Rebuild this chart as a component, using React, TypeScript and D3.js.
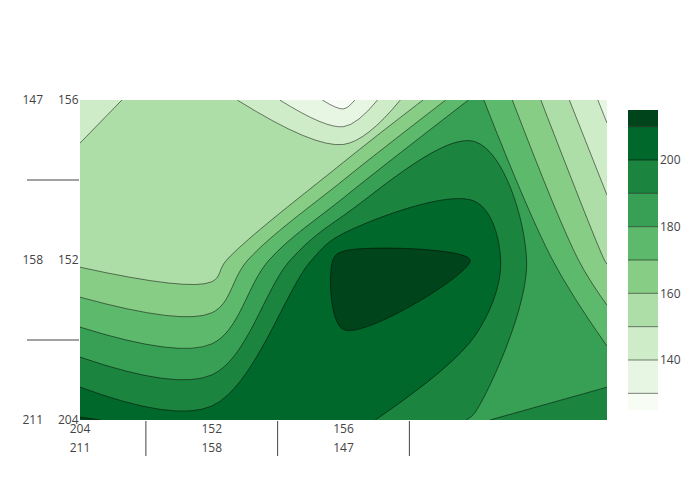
import React from 'react';
import * as d3 from 'd3';

// Multicategory labels (outer level, inner level) shared by both axes
const outerCats = ['211', '158', '147'];
const innerCats = ['204', '152', '156'];

// z values: one array per y category (bottom to top), one value per x column
const zRow0 = [211, 204.5, 203.5, 189, 198];
const zRow1 = [157.6, 153, 215, 209.8, 159];
const zRow2 = [147.2, 156, 125, 183, 136.8];

const contourStart = 130;
const contourEnd = 210;
const contourSize = 10;
const colorbarTicks = [140, 160, 180, 200];

// Greens colorscale (low = light)
const greensStops = [0, 0.125, 0.25, 0.375, 0.5, 0.625, 0.75, 0.875, 1];
const greensColors = [
  'rgb(247,252,245)', 'rgb(229,245,224)', 'rgb(199,233,192)', 'rgb(161,217,155)',
  'rgb(116,196,118)', 'rgb(65,171,93)', 'rgb(35,139,69)', 'rgb(0,109,44)', 'rgb(0,68,27)',
];

type Pt = [number, number];
const fmt = (p: Pt) => p[0].toFixed(2) + ',' + p[1].toFixed(2);

function tangent(p0: Pt, p1: Pt, p2: Pt, s: number): [Pt, Pt] {
  const e = 0.5;
  const d1x = p0[0] - p1[0], d1y = p0[1] - p1[1];
  const d2x = p2[0] - p1[0], d2y = p2[1] - p1[1];
  const d1a = Math.pow(d1x * d1x + d1y * d1y, e / 2);
  const d2a = Math.pow(d2x * d2x + d2y * d2y, e / 2);
  const numx = (d2a * d2a * d1x - d1a * d1a * d2x) * s;
  const numy = (d2a * d2a * d1y - d1a * d1a * d2y) * s;
  const den1 = 3 * d2a * (d1a + d2a);
  const den2 = 3 * d1a * (d1a + d2a);
  return [
    [p1[0] + (den1 && numx / den1), p1[1] + (den1 && numy / den1)],
    [p1[0] - (den2 && numx / den2), p1[1] - (den2 && numy / den2)],
  ];
}

function smoothOpenTail(pts: Pt[]): string {
  if (pts.length < 3) return pts.slice(1).map((p) => 'L' + fmt(p)).join('');
  const t: [Pt, Pt][] = [];
  for (let i = 1; i < pts.length - 1; i++) t.push(tangent(pts[i - 1], pts[i], pts[i + 1], 1));
  let s = 'Q' + fmt(t[0][0]) + ' ' + fmt(pts[1]);
  for (let i = 2; i < pts.length - 1; i++) {
    s += 'C' + fmt(t[i - 2][1]) + ' ' + fmt(t[i - 1][0]) + ' ' + fmt(pts[i]);
  }
  s += 'Q' + fmt(t[pts.length - 3][1]) + ' ' + fmt(pts[pts.length - 1]);
  return s;
}

function smoothClosed(pts: Pt[]): string {
  if (pts.length < 3) return 'M' + pts.map(fmt).join('L') + 'Z';
  const last = pts.length - 1;
  const t: [Pt, Pt][] = [tangent(pts[last], pts[0], pts[1], 1)];
  for (let i = 1; i < last; i++) t.push(tangent(pts[i - 1], pts[i], pts[i + 1], 1));
  t.push(tangent(pts[last - 1], pts[last], pts[0], 1));
  let s = 'M' + fmt(pts[0]);
  for (let i = 1; i <= last; i++) s += 'C' + fmt(t[i - 1][1]) + ' ' + fmt(t[i][0]) + ' ' + fmt(pts[i]);
  s += 'C' + fmt(t[last][1]) + ' ' + fmt(t[0][0]) + ' ' + fmt(pts[0]) + 'Z';
  return s;
}

export default function App() {
  const W = 700, H = 500;
  const px0 = 80, px1 = 607, py0 = 100, py1 = 420;
  const nx = zRow0.length, ny = 3;
  const values = [...zRow0, ...zRow1, ...zRow2];

  const x = d3.scaleLinear().domain([0, nx - 1]).range([px0, px1]);
  const y = d3.scaleLinear().domain([0, ny - 1]).range([py1, py0]);

  const levels = d3.range(contourStart, contourEnd + contourSize / 2, contourSize);
  const zMin = d3.min(values) as number;
  const zMax = d3.max(values) as number;

  const cscale = d3.scaleLinear<string>().domain(greensStops).range(greensColors).interpolate(d3.interpolateRgb);
  const sLo = contourStart - contourSize / 2;
  const sHi = contourEnd + contourSize / 2;
  const bandColor = (v: number) => cscale(Math.max(0, Math.min(1, (v - sLo) / (sHi - sLo))));

  const clamp = (v: number, lo: number, hi: number) => Math.max(lo, Math.min(hi, v));
  const eq = (a: number, b: number) => Math.abs(a - b) < 1e-6;

  function ringPaths(ring: number[][]) {
    const g: Pt[] = ring.map(([a, b]) => [clamp(a - 0.5, 0, nx - 1), clamp(b - 0.5, 0, ny - 1)]);
    const P: Pt[] = g.map(([gx, gy]) => [x(gx), y(gy)]);
    const dist = (a: Pt, b: Pt) => Math.hypot(a[0] - b[0], a[1] - b[1]);
    const idx: number[] = [];
    for (let i = 0; i < g.length; i++) {
      if (idx.length === 0 || dist(P[i], P[idx[idx.length - 1]]) > 0.5) idx.push(i);
    }
    while (idx.length > 1 && dist(P[idx[0]], P[idx[idx.length - 1]]) <= 0.5) idx.pop();
    const N = idx.length;
    if (N < 3) return { fill: '', lines: [] as string[] };
    const G = idx.map((i) => g[i]);
    const Q = idx.map((i) => P[i]);
    const isB = (i: number, j: number) => {
      const a = G[i], b = G[j];
      return (eq(a[0], 0) && eq(b[0], 0)) || (eq(a[0], nx - 1) && eq(b[0], nx - 1)) ||
        (eq(a[1], 0) && eq(b[1], 0)) || (eq(a[1], ny - 1) && eq(b[1], ny - 1));
    };
    let s = -1;
    for (let i = 0; i < N; i++) if (isB((i - 1 + N) % N, i)) { s = i; break; }
    if (s < 0) {
      const c = smoothClosed(Q);
      return { fill: c, lines: [c] };
    }
    let d = 'M' + fmt(Q[s]);
    let run: Pt[] = [Q[s]];
    const lines: string[] = [];
    for (let k = 0; k < N; k++) {
      const i = (s + k) % N, j = (s + k + 1) % N;
      if (isB(i, j)) {
        if (run.length > 1) {
          const t = smoothOpenTail(run);
          d += t;
          lines.push('M' + fmt(run[0]) + t);
        }
        d += 'L' + fmt(Q[j]);
        run = [Q[j]];
      } else {
        run.push(Q[j]);
      }
    }
    if (run.length > 1) {
      const t = smoothOpenTail(run);
      d += t;
      lines.push('M' + fmt(run[0]) + t);
    }
    d += 'Z';
    return { fill: d, lines };
  }

  const gen = d3.contours().size([nx, ny]);
  const fills: { d: string; color: string }[] = [];
  const lines: string[] = [];
  levels.forEach((level) => {
    const mp = gen.contour(values, level);
    let d = '';
    mp.coordinates.forEach((poly) => poly.forEach((ring) => {
      const r = ringPaths(ring as number[][]);
      d += r.fill;
      lines.push(...r.lines);
    }));
    fills.push({ d, color: bandColor(level + contourSize / 2) });
  });

  // colorbar
  const cbX = 628, cbW = 30;
  const cb = d3.scaleLinear().domain([zMin, zMax]).range([410, 110]);
  const edges = [zMin, ...levels, zMax];
  const font = '"Open Sans", verdana, arial, sans-serif';

  const xDividers = outerCats.map((_, i) => i + 0.5).filter((v) => x(v) >= px0 && x(v) <= px1);
  const yDividers = outerCats.map((_, i) => i - 0.5).filter((v) => y(v) >= py0 && y(v) <= py1);

  return (
    <div style={{ position: 'absolute', left: 0, top: 0 }}>
      <svg width={W} height={H} style={{ display: 'block', background: '#fff' }}>
        <defs>
          <clipPath id="plotclip">
            <rect x={px0} y={py0} width={px1 - px0} height={py1 - py0} />
          </clipPath>
        </defs>
        <g clipPath="url(#plotclip)">
          <rect x={px0} y={py0} width={px1 - px0} height={py1 - py0} fill={bandColor(contourStart - contourSize / 2)} />
          {fills.map((f, i) => (
            <path key={i} d={f.d} fill={f.color} fillRule="evenodd" stroke="none" />
          ))}
          {lines.map((d, i) => (
            <path key={'l' + i} d={d} fill="none" stroke="#000" strokeWidth={0.5} />
          ))}
        </g>

        {/* x axis multicategory labels */}
        {innerCats.map((c, i) => (
          <text key={'xi' + i} x={x(i)} y={433} textAnchor="middle" fontFamily={font} fontSize={12} fill="#444">{c}</text>
        ))}
        {outerCats.map((c, i) => (
          <text key={'xo' + i} x={x(i)} y={452} textAnchor="middle" fontFamily={font} fontSize={12} fill="#444">{c}</text>
        ))}
        {xDividers.map((v, i) => (
          <line key={'xd' + i} x1={x(v)} x2={x(v)} y1={421} y2={456} stroke="#444" strokeWidth={1} />
        ))}

        {/* y axis multicategory labels */}
        {innerCats.map((c, i) => (
          <text key={'yi' + i} x={78.5} y={y(i) + 4.2} textAnchor="end" fontFamily={font} fontSize={12} fill="#444">{c}</text>
        ))}
        {outerCats.map((c, i) => (
          <text key={'yo' + i} x={43} y={y(i) + 4.2} textAnchor="end" fontFamily={font} fontSize={12} fill="#444">{c}</text>
        ))}
        {yDividers.map((v, i) => (
          <line key={'yd' + i} x1={27} x2={79} y1={y(v)} y2={y(v)} stroke="#444" strokeWidth={1} />
        ))}

        {/* colorbar */}
        {edges.slice(0, -1).map((e0, b) => {
          const e1 = edges[b + 1];
          return (
            <rect key={'cb' + b} x={cbX} y={cb(e1)} width={cbW} height={cb(e0) - cb(e1)}
              fill={bandColor(contourStart + (b - 0.5) * contourSize)} />
          );
        })}
        {levels.map((l, i) => (
          <line key={'cbl' + i} x1={cbX} x2={cbX + cbW} y1={cb(l)} y2={cb(l)} stroke="#000" strokeWidth={0.5} />
        ))}
        {colorbarTicks.map((t, i) => (
          <text key={'cbt' + i} x={cbX + cbW + 2} y={cb(t) + 4.2} fontFamily={font} fontSize={12} fill="#444">{t}</text>
        ))}
      </svg>
    </div>
  );
}
